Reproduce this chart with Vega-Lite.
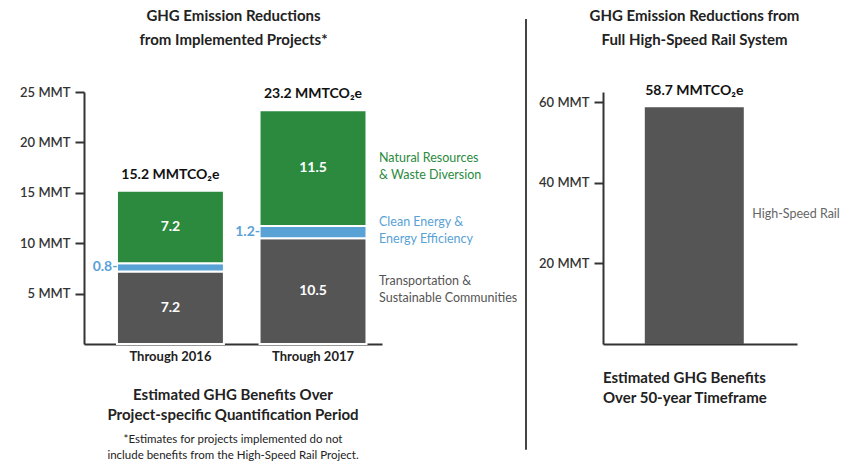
{
  "$schema": "https://vega.github.io/schema/vega-lite/v6.json",
  "padding": {"left": 19, "top": 8, "right": 0, "bottom": 0},
  "background": "white",
  "spacing": 77,
  "bounds": "flush",
  "config": {
    "view": {"stroke": null},
    "font": "Lato",
    "text": {"font": "Lato"},
    "axis": {"labelFont": "Lato", "titleFont": "Lato", "grid": false, "domainColor": "#333333", "domainWidth": 2, "tickColor": "#333333", "tickWidth": 2, "labelColor": "#333333", "titleColor": "#222222"},
    "title": {"font": "Lato", "subtitleFont": "Lato", "color": "#222222", "subtitleColor": "#222222"}
  },
  "hconcat": [
    {
      "width": 298,
      "height": 252,
      "data": {"values": [
        {"period": "Through 2016", "sector": "Transportation &\nSustainable Communities", "value": 7.2},
        {"period": "Through 2016", "sector": "Clean Energy &\nEnergy Efficiency", "value": 0.8},
        {"period": "Through 2016", "sector": "Natural Resources\n& Waste Diversion", "value": 7.2},
        {"period": "Through 2017", "sector": "Transportation &\nSustainable Communities", "value": 10.5},
        {"period": "Through 2017", "sector": "Clean Energy &\nEnergy Efficiency", "value": 1.2},
        {"period": "Through 2017", "sector": "Natural Resources\n& Waste Diversion", "value": 11.5}
      ]},
      "transform": [{"stack": "value", "groupby": ["period"], "as": ["y0", "y1"]}],
      "title": {
        "text": ["Estimated GHG Benefits Over", "Project-specific Quantification Period"],
        "subtitle": ["*Estimates for projects implemented do not", "include benefits from the High-Speed Rail Project."],
        "orient": "bottom", "anchor": "middle", "frame": "group",
        "fontSize": 15, "fontWeight": "bold", "lineHeight": 20,
        "subtitleFontSize": 11.5, "subtitleLineHeight": 16, "subtitlePadding": 11, "offset": 25
      },
      "layer": [
        {
          "mark": {"type": "bar", "stroke": "white", "strokeWidth": 2},
          "encoding": {
            "x": {"field": "period", "type": "nominal", "sort": null,
              "scale": {"paddingInner": 0.25, "paddingOuter": 0.17, "align": 0.68},
              "axis": {"orient": "bottom", "title": null, "ticks": false, "labelAngle": 0, "labelFontSize": 13, "labelFontWeight": "bold", "labelPadding": 6, "labelColor": "#222222"}},
            "y": {"field": "y1", "type": "quantitative", "scale": {"domain": [0, 25]},
              "axis": {"orient": "left", "title": null, "values": [5, 10, 15, 20, 25], "labelExpr": "datum.value + ' MMT'", "tickSize": 9, "labelFontSize": 13, "labelFontWeight": 600, "labelPadding": 5}},
            "y2": {"field": "y0"},
            "color": {"field": "sector", "type": "nominal",
              "scale": {"domain": ["Transportation &\nSustainable Communities", "Clean Energy &\nEnergy Efficiency", "Natural Resources\n& Waste Diversion"], "range": ["#555555", "#59a2d6", "#2b8a3e"]},
              "legend": null}
          }
        },
        {
          "transform": [{"filter": "!test(/Clean/, datum.sector)"}, {"fold": ["y0", "y1"], "as": ["k", "pos"]}],
          "mark": {"type": "text", "color": "white", "fontSize": 14, "fontWeight": "bold", "baseline": "middle"},
          "encoding": {
            "x": {"field": "period", "type": "nominal", "axis": null},
            "y": {"field": "pos", "aggregate": "mean", "type": "quantitative", "scale": {"domain": [0, 25]}, "axis": null},
            "text": {"field": "value", "type": "quantitative", "format": ".1f"},
            "detail": {"field": "sector", "type": "nominal"}
          }
        },
        {
          "transform": [{"filter": "test(/Clean/, datum.sector)"}, {"fold": ["y0", "y1"], "as": ["k", "pos"]}],
          "mark": {"type": "text", "color": "#59a2d6", "fontSize": 14, "fontWeight": "bold", "align": "right", "baseline": "middle", "dx": -53,
            "text": {"expr": "format(datum.value, '.1f') + '-'"}},
          "encoding": {
            "x": {"field": "period", "type": "nominal", "axis": null},
            "y": {"field": "pos", "aggregate": "mean", "type": "quantitative", "scale": {"domain": [0, 25]}, "axis": null},
            "detail": {"field": "value", "type": "quantitative"}
          }
        },
        {
          "transform": [{"filter": "datum.period == 'Through 2017'"}, {"fold": ["y0", "y1"], "as": ["k", "pos"]}],
          "mark": {"type": "text", "align": "left", "baseline": "middle", "dx": 66, "dy": -10, "fontSize": 12.5, "lineBreak": "\n", "lineHeight": 17},
          "encoding": {
            "x": {"field": "period", "type": "nominal", "axis": null},
            "y": {"field": "pos", "aggregate": "mean", "type": "quantitative", "scale": {"domain": [0, 25]}, "axis": null},
            "text": {"field": "sector", "type": "nominal"},
            "color": {"field": "sector", "type": "nominal", "legend": null}
          }
        },
        {
          "transform": [{"aggregate": [{"op": "max", "field": "y1", "as": "total"}], "groupby": ["period"]}],
          "mark": {"type": "text", "fontSize": 14, "fontWeight": "bold", "color": "#111111", "baseline": "middle", "dy": -16,
            "text": {"expr": "format(datum.total, '.1f') + ' MMTCO₂e'"}},
          "encoding": {
            "x": {"field": "period", "type": "nominal",
              "axis": {"orient": "top", "title": ["GHG Emission Reductions", "from Implemented Projects*"], "domain": false, "ticks": false, "labels": false, "titleFontSize": 15, "titleFontWeight": "bold", "titleLineHeight": 24, "titlePadding": 45}},
            "y": {"field": "total", "type": "quantitative", "scale": {"domain": [0, 25]}, "axis": null}
          }
        }
      ],
      "resolve": {"axis": {"x": "independent", "y": "independent"}}
    },
    {
      "width": 67,
      "height": 252,
      "data": {"values": [{}]},
      "mark": {"type": "rule", "color": "#444444", "strokeWidth": 2},
      "encoding": {
        "x": {"datum": 1, "type": "quantitative", "scale": {"domain": [0, 1]}, "axis": null},
        "y": {"datum": -0.42, "type": "quantitative", "scale": {"domain": [0, 1]}, "axis": null},
        "y2": {"datum": 1.29}
      }
    },
    {
      "width": 194,
      "height": 252,
      "data": {"values": [{"project": "High-Speed Rail", "value": 58.7}]},
      "transform": [{"stack": "value", "groupby": ["project"], "as": ["y0", "y1"]}],
      "title": {
        "text": ["Estimated GHG Benefits", "Over 50-year Timeframe"],
        "orient": "bottom", "anchor": "start", "frame": "group",
        "fontSize": 15, "fontWeight": "bold", "lineHeight": 20, "offset": 27
      },
      "layer": [
        {
          "mark": {"type": "bar", "color": "#555555"},
          "encoding": {
            "x": {"field": "project", "type": "nominal",
              "scale": {"paddingInner": 0, "paddingOuter": 0.48, "align": 0.44},
              "axis": {"orient": "bottom", "title": null, "ticks": false, "labels": false}},
            "y": {"field": "y1", "type": "quantitative", "scale": {"domain": [0, 62.5], "nice": false},
              "axis": {"orient": "left", "title": null, "values": [20, 40, 60], "labelExpr": "datum.value + ' MMT'", "tickSize": 9, "labelFontSize": 13, "labelFontWeight": 600, "labelPadding": 5}},
            "y2": {"field": "y0"}
          }
        },
        {
          "mark": {"type": "text", "fontSize": 14, "fontWeight": "bold", "color": "#111111", "baseline": "middle", "dy": -16,
            "text": {"expr": "format(datum.value, '.1f') + ' MMTCO₂e'"}},
          "encoding": {
            "x": {"field": "project", "type": "nominal",
              "axis": {"orient": "top", "title": ["GHG Emission Reductions from", "Full High-Speed Rail System"], "domain": false, "ticks": false, "labels": false, "titleFontSize": 15, "titleFontWeight": "bold", "titleLineHeight": 24, "titlePadding": 45, "titleX": 91}},
            "y": {"field": "value", "type": "quantitative", "scale": {"domain": [0, 62.5], "nice": false}, "axis": null}
          }
        },
        {
          "transform": [{"fold": ["y0", "y1"], "as": ["k", "pos"]}],
          "mark": {"type": "text", "color": "#666666", "fontSize": 12.5, "align": "left", "baseline": "middle", "dx": 58, "dy": -12},
          "encoding": {
            "x": {"field": "project", "type": "nominal", "axis": null},
            "y": {"field": "pos", "aggregate": "mean", "type": "quantitative", "scale": {"domain": [0, 62.5], "nice": false}, "axis": null},
            "text": {"field": "project", "type": "nominal"}
          }
        }
      ],
      "resolve": {"axis": {"x": "independent", "y": "independent"}}
    }
  ]
}
